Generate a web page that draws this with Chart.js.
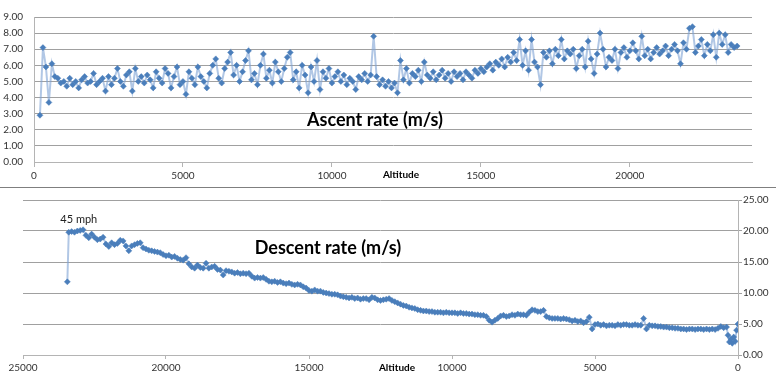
<!DOCTYPE html>
<html><head><meta charset="utf-8">
<script src="https://cdn.jsdelivr.net/npm/chart.js@4"></script>
<style>
html,body{margin:0;padding:0;background:#fff;}
#wrap{position:relative;width:776px;height:378px;overflow:hidden;background:#fff;}
#c1{position:absolute;left:0;top:0;}
#c2{position:absolute;left:0;top:189px;}
#sep{position:absolute;left:0;top:187px;width:776px;height:1px;background:#7f7f7f;}
</style></head><body>
<div id="wrap"><canvas id="c1" width="776" height="187"></canvas><div id="sep"></div><canvas id="c2" width="776" height="189"></canvas></div>
<script>
// ---------- Ascent (top chart) ----------
const ascentAltitude = [
 200,300,400,500,600,700,800,900,1000,1100,
 1200,1300,1400,1500,1600,1700,1800,1900,2000,2100,
 2200,2300,2400,2500,2600,2700,2800,2900,3000,3100,
 3200,3300,3400,3500,3600,3700,3800,3900,4000,4100,
 4200,4300,4400,4500,4600,4700,4800,4900,5000,5100,
 5200,5300,5400,5500,5600,5700,5800,5900,6000,6100,
 6200,6300,6400,6500,6600,6700,6800,6900,7000,7100,
 7200,7300,7400,7500,7600,7700,7800,7900,8000,8100,
 8200,8300,8400,8500,8600,8700,8800,8900,9000,9100,
 9200,9300,9400,9500,9600,9700,9800,9900,10000,10100,
 10200,10300,10400,10500,10600,10700,10800,10900,11000,11100,
 11200,11300,11400,11500,11600,11700,11800,11900,12000,12100,
 12200,12300,12400,12500,12600,12700,12800,12900,13000,13100,
 13200,13300,13400,13500,13600,13700,13800,13900,14000,14100,
 14200,14300,14400,14500,14600,14700,14800,14900,15000,15100,
 15200,15300,15400,15500,15600,15700,15800,15900,16000,16100,
 16200,16300,16400,16500,16600,16700,16800,16900,17000,17100,
 17200,17300,17400,17500,17600,17700,17800,17900,18000,18100,
 18200,18300,18400,18500,18600,18700,18800,18900,19000,19100,
 19200,19300,19400,19500,19600,19700,19800,19900,20000,20100,
 20200,20300,20400,20500,20600,20700,20800,20900,21000,21100,
 21200,21300,21400,21500,21600,21700,21800,21900,22000,22100,
 22200,22300,22400,22500,22600,22700,22800,22900,23000,23100,
 23200,23300,23400,23500,23600
];
const ascentRate = [
 2.9,7.1,5.9,3.7,6.1,5.3,5.2,4.9,5.0,4.7,
 5.2,4.8,5.0,4.6,5.1,5.3,4.9,5.0,5.5,4.8,
 5.0,5.2,4.4,5.3,4.8,5.2,5.8,5.0,4.7,5.4,
 5.6,4.4,5.8,5.0,5.3,4.9,5.4,5.1,4.6,5.6,
 5.2,4.9,5.8,5.5,4.6,5.3,5.9,4.8,5.0,4.2,
 5.6,5.2,4.8,5.9,5.3,5.0,4.6,5.5,6.0,6.4,
 5.2,4.9,5.8,6.2,6.8,5.4,6.0,5.0,5.6,6.3,
 6.9,5.1,5.5,4.8,6.0,6.7,5.2,5.7,4.9,6.2,
 5.6,5.0,5.8,6.5,6.8,5.1,5.6,4.6,6.0,5.4,
 4.3,5.9,5.0,6.3,4.5,5.6,5.2,5.8,4.9,5.3,
 5.6,5.0,5.4,4.8,5.2,5.0,4.5,5.3,5.1,5.5,
 5.0,5.4,7.8,5.3,4.8,5.1,4.7,5.0,4.6,4.9,
 4.3,6.3,5.1,5.8,4.9,5.5,5.3,5.7,5.0,6.2,
 5.4,5.2,5.6,5.1,5.4,5.7,5.2,5.5,5.0,5.6,
 5.3,5.5,5.1,5.6,5.4,5.2,5.7,5.5,5.8,5.6,
 5.9,6.1,5.7,6.2,6.0,6.4,5.9,6.5,6.2,6.8,
 6.3,7.6,6.0,6.9,5.7,7.6,6.2,5.9,4.8,6.8,
 6.5,6.9,6.1,7.0,6.6,7.6,6.4,6.9,6.7,7.0,
 5.8,6.6,7.0,5.9,7.5,6.4,5.5,6.7,8.0,7.0,
 5.9,6.5,6.3,7.0,5.8,6.8,7.1,6.5,6.9,7.4,
 6.9,6.4,7.8,6.6,7.0,6.4,6.8,7.1,6.7,6.9,
 7.2,6.6,7.0,7.3,6.9,6.1,7.4,7.0,8.3,8.4,
 6.8,7.2,7.6,6.6,7.3,6.9,7.9,6.5,8.0,7.3,
 7.9,6.8,7.3,7.1,7.2
];
const ascentXTicks = [0,5000,10000,15000,20000];
const ascentYTicks = [0,1,2,3,4,5,6,7,8,9];

// ---------- Descent (bottom chart) ----------
const descentAltitude = [
 23450,
 23400,23300,23200,23100,23000,22900,22800,22700,22600,22500,
 22400,22300,22200,22100,22000,21900,21800,21700,21600,21500,
 21400,21300,21200,21100,21000,20900,20800,20700,20600,20500,
 20400,20300,20200,20100,20000,19900,19800,19700,19600,19500,
 19400,19300,19200,19100,19000,18900,18800,18700,18600,18500,
 18400,18300,18200,18100,18000,17900,17800,17700,17600,17500,
 17400,17300,17200,17100,17000,16900,16800,16700,16600,16500,
 16400,16300,16200,16100,16000,15900,15800,15700,15600,15500,
 15400,15300,15200,15100,15000,14900,14800,14700,14600,14500,
 14400,14300,14200,14100,14000,13900,13800,13700,13600,13500,
 13400,13300,13200,13100,13000,12900,12800,12700,12600,12500,
 12400,12300,12200,12100,12000,11900,11800,11700,11600,11500,
 11400,11300,11200,11100,11000,10900,10800,10700,10600,10500,
 10400,10300,10200,10100,10000,9900,9800,9700,9600,9500,
 9400,9300,9200,9100,9000,8900,8800,8700,8600,8500,
 8400,8300,8200,8100,8000,7900,7800,7700,7600,7500,
 7400,7300,7200,7100,7000,6900,6800,6700,6600,6500,
 6400,6300,6200,6100,6000,5900,5800,5700,5600,5500,
 5400,5300,5200,5100,5000,4900,4800,4700,4600,4500,
 4400,4300,4200,4100,4000,3900,3800,3700,3600,3500,
 3400,3300,3200,3100,3000,2900,2800,2700,2600,2500,
 2400,2300,2200,2100,2000,1900,1800,1700,1600,1500,
 1400,1300,1200,1100,1000,900,800,700,600,500,
 400,
 350,300,250,200,150,100,50,0
];
const descentRate = [
 11.8,
 19.8,19.9,19.8,20.0,20.1,20.2,19.3,18.9,19.5,19.0,
 18.6,18.7,19.0,17.9,17.5,18.1,17.8,18.0,18.5,18.4,
 17.6,16.8,17.6,17.8,18.0,18.1,17.3,17.1,16.9,16.8,
 16.7,16.6,16.5,16.2,16.0,16.1,15.8,15.9,15.6,15.4,
 15.3,15.7,14.7,14.2,14.0,14.5,14.1,14.0,14.8,14.0,
 14.2,14.3,13.8,13.7,12.9,13.6,13.5,13.4,13.2,13.3,
 13.1,13.2,13.1,13.2,12.7,12.4,12.5,12.4,12.5,12.2,
 11.9,11.8,11.9,11.7,11.8,11.6,11.5,11.6,11.4,11.3,
 11.4,11.3,11.0,10.8,10.4,10.3,10.5,10.3,10.3,10.1,
 10.0,9.9,9.8,9.8,9.7,9.5,9.4,9.3,9.2,9.3,
 9.1,9.2,9.0,9.1,9.1,8.9,9.3,9.2,8.9,8.8,
 8.9,9.0,9.1,8.8,8.6,8.4,8.2,8.0,7.9,7.7,
 7.6,7.5,7.3,7.2,7.1,7.1,7.0,7.0,6.9,6.9,
 6.9,6.8,6.9,6.8,6.8,6.8,6.7,6.8,6.7,6.7,
 6.6,6.6,6.5,6.5,6.4,6.4,6.2,5.6,5.3,5.6,
 5.9,6.3,6.4,6.2,6.3,6.5,6.4,6.6,6.5,6.5,
 6.4,6.9,7.3,7.2,7.0,7.0,7.2,6.2,6.0,5.9,
 5.9,5.9,5.8,5.9,5.8,5.7,5.5,5.6,5.4,5.5,
 5.2,5.4,6.1,4.2,4.9,5.0,4.8,4.9,4.7,4.8,
 4.8,4.7,4.9,4.8,4.9,4.9,4.8,4.8,4.9,4.8,
 4.8,5.9,4.2,4.8,4.7,4.7,4.6,4.6,4.5,4.5,
 4.4,4.4,4.3,4.3,4.2,4.2,4.1,4.2,4.2,4.1,
 4.2,4.2,4.1,4.2,4.1,4.2,4.1,4.3,4.6,4.4,
 4.5,
 3.2,2.1,2.6,1.9,2.9,2.2,4.0,5.0
];
const descentXTicks = [0,5000,10000,15000,20000,25000];
const descentYTicks = [0,5,10,15,20,25];

// ---------- Styling ----------
const FONT = 'Lato, "Liberation Sans", sans-serif';
const markerColor = '#4A7EBB';
const lineColor = 'rgba(125,162,212,0.6)';
const gridColor = '#a0a0a0';
const axisColor = '#b4b4b4';
const tickColor = '#333333';

function toPoints(xs, ys){ return xs.map((x,i)=>({x:x, y:ys[i]})); }

const textPlugin = {
  id:'texts',
  afterDatasetsDraw(chart, args, opts){
    const ctx = chart.ctx;
    (opts.items||[]).forEach(it=>{
      ctx.save();
      ctx.font = it.font;
      ctx.fillStyle = it.color || '#000';
      ctx.textAlign = 'center';
      ctx.textBaseline = 'middle';
      let x = it.x, y = it.y;
      if (it.dataX !== undefined) {
        x = chart.scales.x.getPixelForValue(it.dataX);
        y = chart.scales.y.getPixelForValue(it.dataY);
      }
      ctx.fillText(it.text, x, y);
      ctx.restore();
    });
  }
};

function dataset(points){
  return {
    data: points, showLine:true, borderColor:lineColor, borderWidth:2, tension:0,
    pointStyle:'rectRot', pointRadius:3, pointBackgroundColor:markerColor,
    pointBorderColor:markerColor, pointBorderWidth:0.5
  };
}

new Chart(document.getElementById('c1'), {
  type:'scatter',
  data:{datasets:[dataset(toPoints(ascentAltitude, ascentRate))]},
  options:{
    responsive:false, animation:false, devicePixelRatio:1,
    layout:{padding:{top:8,right:24,left:0,bottom:0}},
    plugins:{
      legend:{display:false}, tooltip:{enabled:false},
      texts:{items:[
        {text:'Ascent rate (m/s)', x:375, y:120, font:'bold 18px '+FONT, color:'#000'},
        {text:'Altitude', x:401, y:175, font:'bold 10px '+FONT, color:'#000'}
      ]}
    },
    scales:{
      x:{type:'linear', min:0, max:24100,
        afterBuildTicks:s=>{ s.ticks = ascentXTicks.map(v=>({value:v})); },
        afterFit:s=>{ s.height = 25; },
        grid:{drawOnChartArea:false, drawTicks:true, tickLength:5, color:axisColor},
        border:{color:axisColor},
        ticks:{padding:3, autoSkip:false, maxRotation:0, font:{family:FONT,size:10}, color:tickColor, callback:v=>String(v)}
      },
      y:{type:'linear', min:0, max:9,
        afterBuildTicks:s=>{ s.ticks = ascentYTicks.map(v=>({value:v})); },
        afterFit:s=>{ s.width = 34; },
        grid:{color:gridColor, drawTicks:false},
        border:{color:axisColor},
        ticks:{padding:11, autoSkip:false, font:{family:FONT,size:10}, color:tickColor, callback:v=>Number(v).toFixed(2)}
      }
    }
  },
  plugins:[textPlugin]
});

new Chart(document.getElementById('c2'), {
  type:'scatter',
  data:{datasets:[dataset(toPoints(descentAltitude, descentRate))]},
  options:{
    responsive:false, animation:false, devicePixelRatio:1,
    layout:{padding:{top:11,right:0,left:23,bottom:0}},
    plugins:{
      legend:{display:false}, tooltip:{enabled:false},
      texts:{items:[
        {text:'Descent rate (m/s)', x:328, y:59, font:'bold 18px '+FONT, color:'#000'},
        {text:'Altitude', x:397, y:179, font:'bold 10px '+FONT, color:'#000'},
        {text:'45 mph', dataX:23050, dataY:21.9, font:'11px '+FONT, color:'#222'}
      ]}
    },
    scales:{
      x:{type:'linear', min:0, max:25000, reverse:true,
        afterBuildTicks:s=>{ s.ticks = descentXTicks.map(v=>({value:v})); },
        afterFit:s=>{ s.height = 23; },
        grid:{drawOnChartArea:false, drawTicks:true, tickLength:4, color:axisColor},
        border:{color:axisColor},
        ticks:{padding:3, autoSkip:false, maxRotation:0, font:{family:FONT,size:10}, color:tickColor, callback:v=>String(v)}
      },
      y:{type:'linear', position:'right', min:0, max:25,
        afterBuildTicks:s=>{ s.ticks = descentYTicks.map(v=>({value:v})); },
        afterFit:s=>{ s.width = 38; },
        grid:{color:gridColor, drawTicks:true, tickLength:4},
        border:{color:axisColor},
        ticks:{padding:1, autoSkip:false, font:{family:FONT,size:10}, color:tickColor, callback:v=>Number(v).toFixed(2)}
      }
    }
  },
  plugins:[textPlugin]
});
</script>
</body></html>
